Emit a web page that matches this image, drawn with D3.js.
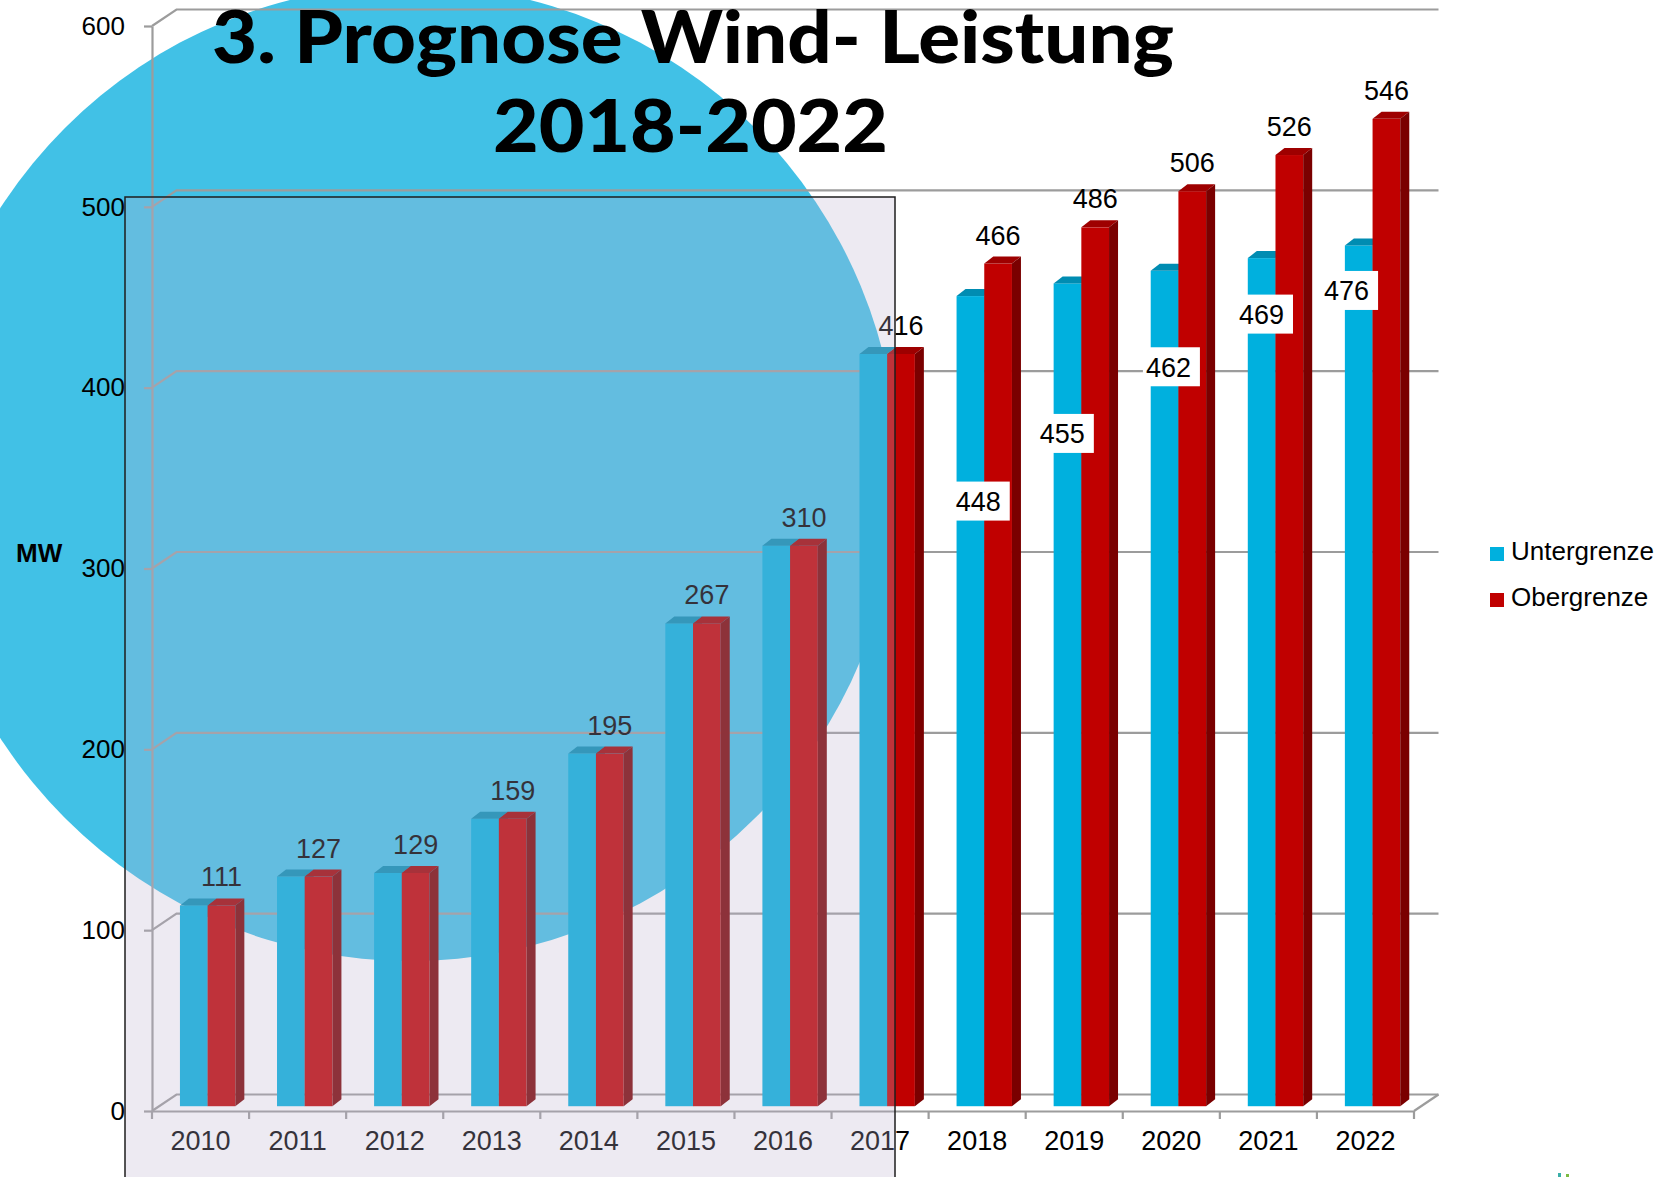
<!DOCTYPE html>
<html>
<head>
<meta charset="utf-8">
<script src="https://cdn.jsdelivr.net/npm/d3@7"></script>
<style>
  body { margin: 0; background: #fff; }
  svg { display: block; }
</style>
</head>
<body>
<script>
// ---- data ----
const years = ["2010", "2011", "2012", "2013", "2014", "2015", "2016", "2017", "2018", "2019", "2020", "2021", "2022"];
const untergrenze = [111, 127, 129, 159, 195, 267, 310, 416, 448, 455, 462, 469, 476];
const obergrenze  = [111, 127, 129, 159, 195, 267, 310, 416, 466, 486, 506, 526, 546];
const yTickValues = [0, 100, 200, 300, 400, 500, 600];
const seriesNames = ["Untergrenze", "Obergrenze"];
const titleLines = ["3. Prognose Wind- Leistung", "2018-2022"];
const unitLabel = "MW";

// ---- layout ----
const W = 1661, H = 1177;
const frontLeft = 152, frontRight = 1414, frontBase = 1111, frontTop = 26;
const wall = { dx: 24.5, dy: -16.5 };      // offset of the back wall from the front plane
const barInset = 0.29;                     // bars stand this far into the floor depth
const barW = 27.7;
const barSide = { dx: 9, dy: -7 };         // extrusion of each bar
// placement of the boxed lower-bound labels: [dx from group centre, dy below bar top]
const unterLabelShift = [[-3, 205], [-16, 150], [-7, 96], [-11, 56], [-23, 45]];

const colors = {
  unter: { front: "#00B0DE", top: "#008CB2", side: "#007A9C" },
  ober:  { front: "#C00000", top: "#9E0000", side: "#7A0000" },
  grid: "#9C9C9C",
  circle: "#41C1E6"
};

const svg = d3.select("body").append("svg")
  .attr("width", W).attr("height", H)
  .style("background", "#fff");

// decorative backdrop disc
svg.append("circle")
  .attr("cx", 410).attr("cy", 473).attr("r", 488)
  .attr("fill", colors.circle);

// ---- scales ----
const x = d3.scaleBand().domain(years).range([frontLeft, frontRight]).padding(0);
const y = d3.scaleLinear().domain([0, 600]).range([frontBase, frontTop]);
const bw = x.bandwidth();

// ---- back wall gridlines with their diagonal connectors ----
const grid = svg.append("g").attr("fill", "none").attr("stroke", colors.grid).attr("stroke-width", 2.2);
yTickValues.forEach(v => {
  const p = d3.path();
  p.moveTo(frontLeft, y(v));
  p.lineTo(frontLeft + wall.dx, y(v) + wall.dy);
  p.lineTo(frontRight + wall.dx, y(v) + wall.dy);
  grid.append("path").attr("d", p.toString());
});
// right floor edge
{
  const p = d3.path();
  p.moveTo(frontRight, y(0));
  p.lineTo(frontRight + wall.dx, y(0) + wall.dy);
  grid.append("path").attr("d", p.toString());
}

// ---- y axis ----
const yAxis = svg.append("g")
  .attr("transform", `translate(${frontLeft},0)`)
  .call(d3.axisLeft(y).tickValues(yTickValues).tickSize(8).tickSizeOuter(0).tickPadding(19).tickFormat(d3.format("d")));
yAxis.select(".domain").attr("stroke", colors.grid).attr("stroke-width", 2.2);
yAxis.selectAll(".tick line").attr("stroke", colors.grid).attr("stroke-width", 2.2);
yAxis.selectAll(".tick text")
  .attr("fill", "#000")
  .style("font-family", "'Liberation Sans', Arial, sans-serif")
  .style("font-size", "26px");

// ---- x axis ----
const xAxis = svg.append("g")
  .attr("transform", `translate(0,${y(0)})`)
  .call(d3.axisBottom(x).tickSize(0).tickPadding(20));
xAxis.select(".domain").attr("stroke", colors.grid).attr("stroke-width", 2.2);
xAxis.selectAll(".tick text")
  .attr("fill", "#000")
  .style("font-family", "'Liberation Sans', Arial, sans-serif")
  .style("font-size", "27px");
// category boundary ticks
svg.append("g").selectAll("line")
  .data(d3.range(years.length + 1))
  .join("line")
  .attr("x1", i => frontLeft + i * bw).attr("x2", i => frontLeft + i * bw)
  .attr("y1", y(0)).attr("y2", y(0) + 8)
  .attr("stroke", colors.grid).attr("stroke-width", 2.2);

// ---- 3D bars ----
const groupCenter = yr => x(yr) + bw / 2 + wall.dx * barInset;
const baseY = y(0) + wall.dy * barInset;
const barTop = v => y(v) + wall.dy * barInset;

function drawBar(g, x0, v, pal) {
  const x1 = x0 + barW, t = barTop(v);
  g.append("rect").attr("x", x0).attr("y", t).attr("width", barW).attr("height", baseY - t).attr("fill", pal.front);
  g.append("path")
    .attr("d", `M${x0},${t} L${x0 + barSide.dx},${t + barSide.dy} L${x1 + barSide.dx},${t + barSide.dy} L${x1},${t} Z`)
    .attr("fill", pal.top);
  g.append("path")
    .attr("d", `M${x1},${t} L${x1 + barSide.dx},${t + barSide.dy} L${x1 + barSide.dx},${baseY + barSide.dy} L${x1},${baseY} Z`)
    .attr("fill", pal.side);
}

const bars = svg.append("g");
years.forEach((yr, i) => {
  const gc = groupCenter(yr);
  const g = bars.append("g");
  drawBar(g, gc - barW, untergrenze[i], colors.unter);
  drawBar(g, gc, obergrenze[i], colors.ober);
});

// ---- value labels ----
const labelFont = "'Liberation Sans', Arial, sans-serif";
svg.append("g").selectAll("text")
  .data(years.map((yr, i) => ({ yr, v: obergrenze[i] })))
  .join("text")
  .attr("x", d => groupCenter(d.yr) + barW / 2)
  .attr("y", d => barTop(d.v) - 19)
  .attr("text-anchor", "middle")
  .style("font-family", labelFont)
  .style("font-size", "27px")
  .attr("fill", "#000")
  .text(d => d.v);

// lower-bound labels only where the two bounds differ
const unterLabels = years.map((yr, i) => ({ yr, v: untergrenze[i], o: obergrenze[i] }))
  .filter(d => d.v !== d.o)
  .map((d, k) => ({ ...d, sx: unterLabelShift[k][0], sy: unterLabelShift[k][1] }));
const ul = svg.append("g").selectAll("g").data(unterLabels).join("g")
  .attr("transform", d => `translate(${groupCenter(d.yr) + d.sx},${barTop(d.v) + d.sy})`);
ul.append("rect").attr("x", -28.5).attr("y", -19.5).attr("width", 57).attr("height", 39).attr("fill", "#fff");
ul.append("text")
  .attr("x", -3).attr("y", 10)
  .attr("text-anchor", "middle")
  .style("font-family", labelFont)
  .style("font-size", "27px")
  .attr("fill", "#000")
  .text(d => d.v);

// ---- unit label ----
svg.append("text")
  .attr("x", 16).attr("y", 562)
  .style("font-family", labelFont)
  .style("font-size", "26px")
  .style("font-weight", "bold")
  .attr("fill", "#000")
  .text(unitLabel);

// ---- legend ----
const legend = svg.append("g").attr("transform", "translate(1490,547)");
[colors.unter.front, colors.ober.front].forEach((c, i) => {
  legend.append("rect").attr("x", 0).attr("y", i * 46).attr("width", 14).attr("height", 14).attr("fill", c);
  legend.append("text")
    .attr("x", 21).attr("y", i * 46 + 13)
    .style("font-family", labelFont)
    .style("font-size", "26px")
    .attr("fill", "#000")
    .text(seriesNames[i]);
});

// ---- title ----
const title = svg.append("g")
  .style("font-family", "Lato, 'Open Sans', sans-serif")
  .style("font-weight", "900")
  .style("font-size", "73px")
  .attr("fill", "#000");
title.append("text").attr("x", 212).attr("y", 63)
  .attr("textLength", 962).attr("lengthAdjust", "spacingAndGlyphs")
  .text(titleLines[0]);
title.append("text").attr("x", 493).attr("y", 152)
  .attr("textLength", 395).attr("lengthAdjust", "spacingAndGlyphs")
  .text(titleLines[1]);

// ---- translucent highlight panel over the historical years ----
svg.append("rect")
  .attr("x", 125).attr("y", 197).attr("width", 770).attr("height", 1000)
  .attr("fill", "rgb(190,180,209)").attr("fill-opacity", 0.278)
  .attr("stroke", "#1e1e1e").attr("stroke-width", 1.5);

// small corner marks
svg.append("rect").attr("x", 1558).attr("y", 1173).attr("width", 3).attr("height", 4).attr("fill", "#3AAFA9");
svg.append("rect").attr("x", 1566).attr("y", 1174).attr("width", 3).attr("height", 3).attr("fill", "#7DBB42");
</script>
</body>
</html>
